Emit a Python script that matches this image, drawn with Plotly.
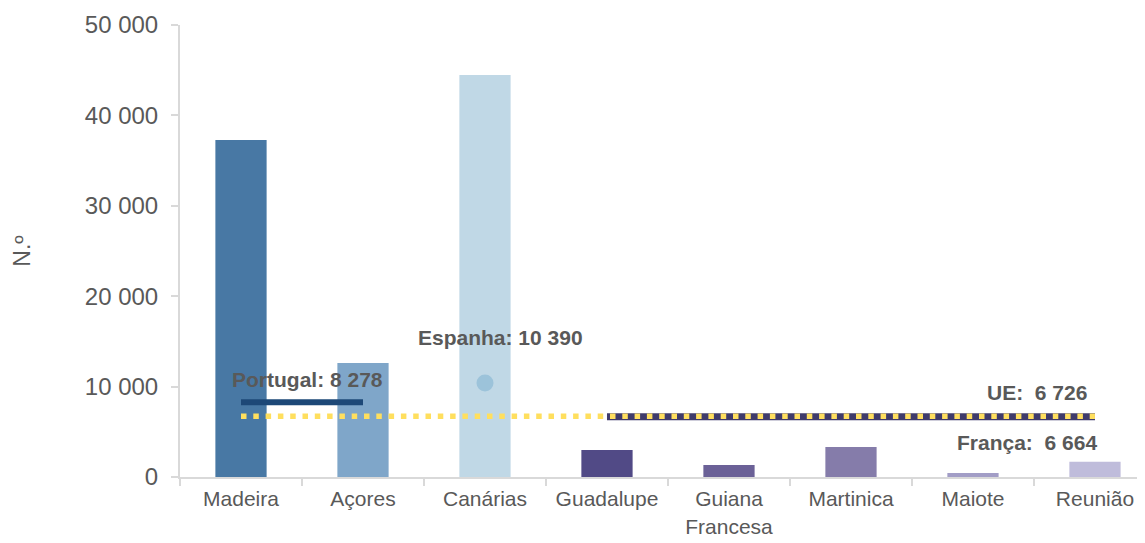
import plotly.graph_objects as go

# ====================================
# DATA
# ====================================

regions = ["Madeira", "Açores", "Canárias", "Guadalupe", "Guiana<br>Francesa",
           "Martinica", "Maiote", "Reunião"]
values = [37280, 12610, 44470, 2990, 1330, 3320, 440, 1700]
bar_colors = ["#4878a4", "#7fa6c9", "#c0d8e6", "#514a86", "#6b6197",
              "#857caa", "#a29dc6", "#bfbcdb"]

portugal_regions = ["Madeira", "Açores"]
portugal_value = 8278

spain_regions = ["Canárias"]
spain_value = 10390

france_regions = ["Guadalupe", "Reunião"]
france_value = 6664

eu_regions = ["Madeira", "Reunião"]
eu_value = 6726

y_ticks = [0, 10000, 20000, 30000, 40000, 50000]

FONT = "Arial, Liberation Sans, sans-serif"
GREY = "#595959"
AXIS = "#d9d9d9"

# ====================================
# FIGURE
# ====================================

fig = go.Figure()

fig.add_trace(go.Bar(
    x=regions,
    y=values,
    marker=dict(color=bar_colors, line=dict(width=0)),
    width=0.42,
    showlegend=False,
    hoverinfo="x+y"
))

# national averages
fig.add_trace(go.Scatter(
    x=portugal_regions,
    y=[portugal_value] * len(portugal_regions),
    mode="lines",
    line=dict(color="#1d4877", width=6),
    showlegend=False
))

fig.add_trace(go.Scatter(
    x=spain_regions,
    y=[spain_value],
    mode="markers",
    marker=dict(color="#9cc3da", size=17),
    showlegend=False
))

fig.add_trace(go.Scatter(
    x=france_regions,
    y=[france_value] * len(france_regions),
    mode="lines",
    line=dict(color="#3f3b6b", width=7),
    showlegend=False
))

fig.add_trace(go.Scatter(
    x=eu_regions,
    y=[eu_value] * len(eu_regions),
    mode="lines",
    line=dict(color="#ffdf5e", width=5.5, dash="5.5px,6.8px"),
    showlegend=False
))

# ====================================
# LABELS
# ====================================

label_font = dict(family=FONT, size=21, color=GREY)

labels = [
    (0.5, portugal_value, "<b>Portugal: 8 278</b>", "center", 5, 23),
    (2, spain_value, "<b>Espanha: 10 390</b>", "center", 16, 46),
    (7, eu_value, "<b>UE:\u00a0 6 726</b>", "right", -6, 24),
    (7, france_value, "<b>França:\u00a0 6 664</b>", "right", 4, -26),
]
for x, y, text, anchor, dx, dy in labels:
    fig.add_annotation(
        x=x, y=y, text=text, showarrow=False,
        xanchor=anchor, yanchor="middle",
        xshift=dx, yshift=dy, font=label_font
    )

# ====================================
# LAYOUT
# ====================================

fig.update_layout(
    width=1137,
    height=535,
    template="plotly_white",
    plot_bgcolor="white",
    paper_bgcolor="white",
    separators=", ",
    font=dict(family=FONT, size=20, color=GREY),
    margin=dict(l=172, r=0, t=17, b=66),
    bargap=0.58,
    xaxis=dict(
        type="category",
        range=[-0.5, 7.41],
        automargin=False,
        tickangle=0,
        showgrid=False,
        zeroline=False,
        showline=True,
        linecolor=AXIS,
        linewidth=2,
        ticks="outside",
        tickson="boundaries",
        ticklen=7,
        tickcolor=AXIS,
        tickwidth=2,
        ticklabelstandoff=2,
        tickfont=dict(family=FONT, size=21, color=GREY)
    ),
    yaxis=dict(
        range=[0, 50000],
        automargin=False,
        tickvals=y_ticks,
        tickformat=",d",
        showgrid=False,
        zeroline=False,
        showline=True,
        linecolor=AXIS,
        linewidth=2,
        ticks="outside",
        ticklen=7,
        tickcolor=AXIS,
        tickwidth=2,
        ticklabelstandoff=8,
        tickfont=dict(family=FONT, size=24, color=GREY),
        title=dict(text="N.º", font=dict(family=FONT, size=23, color=GREY),
                   standoff=48)
    )
)

fig.write_html("out.html")
